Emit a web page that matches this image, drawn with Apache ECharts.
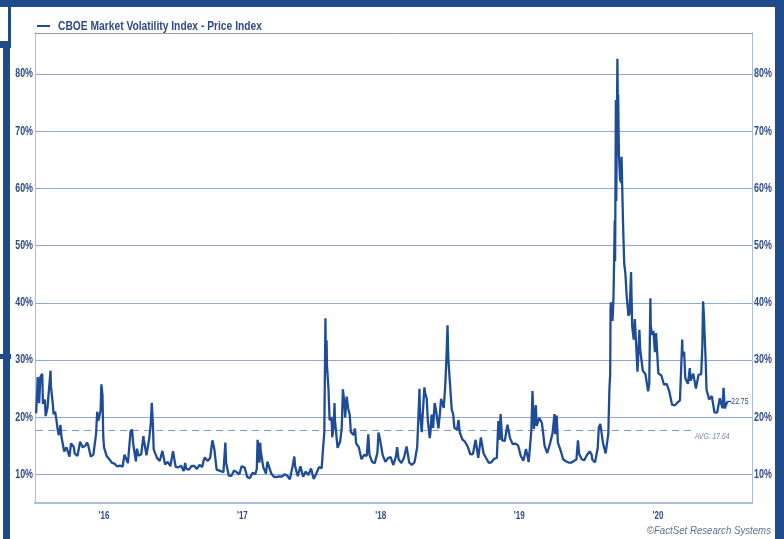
<!DOCTYPE html>
<html>
<head>
<meta charset="utf-8">
<script src="https://cdn.jsdelivr.net/npm/echarts@6/dist/echarts.min.js"></script>
<style>
html,body{margin:0;padding:0;background:#fff;}
#chart{width:784px;height:539px;}
</style>
</head>
<body>
<div id="chart"></div>
<script>
const seriesName = 'CBOE Market Volatility Index - Price Index';
const creditText = '\u00A9FactSet Research Systems';
const yTicks = [10, 20, 30, 40, 50, 60, 70, 80];
const yTickLabels = ['10%', '20%', '30%', '40%', '50%', '60%', '70%', '80%'];
const xLabelDates = ['2016-07-01', '2017-07-01', '2018-07-01', '2019-07-01', '2020-07-01'];
const xTickLabels = ["'16", "'17", "'18", "'19", "'20"];
const avgValue = 17.64;

const vix2016 = [['2016-01-04',20.70],['2016-01-07',24.99],['2016-01-08',27.01],['2016-01-12',22.47],['2016-01-15',27.02],['2016-01-20',27.59],['2016-01-22',22.34],['2016-01-27',23.11],['2016-01-29',20.20],['2016-02-03',21.65],['2016-02-05',23.38],['2016-02-09',26.54],['2016-02-11',28.14],['2016-02-12',25.40],['2016-02-17',22.31],['2016-02-19',20.53],['2016-02-23',20.98],['2016-02-26',19.81],['2016-03-01',17.70],['2016-03-04',16.86],['2016-03-08',18.67],['2016-03-11',16.50],['2016-03-15',16.84],['2016-03-18',14.02],['2016-03-24',14.74],['2016-04-01',13.10],['2016-04-05',15.42],['2016-04-08',15.36],['2016-04-12',14.85],['2016-04-15',13.62],['2016-04-22',13.22],['2016-04-29',15.70],['2016-05-06',14.72],['2016-05-11',14.69],['2016-05-13',15.04],['2016-05-17',15.57],['2016-05-20',15.20],['2016-05-27',13.12],['2016-06-03',13.47],['2016-06-10',17.03],['2016-06-13',20.97],['2016-06-16',19.37],['2016-06-17',19.41],['2016-06-22',21.17],['2016-06-24',25.76],['2016-06-27',23.85],['2016-06-29',16.64],['2016-07-01',14.77],['2016-07-06',14.96],['2016-07-08',13.20],['2016-07-15',12.67],['2016-07-22',12.02],['2016-07-29',11.87],['2016-08-05',11.39],['2016-08-12',11.55],['2016-08-19',11.34],['2016-08-24',13.45],['2016-08-26',13.65],['2016-09-02',11.98],['2016-09-09',17.50],['2016-09-13',17.85],['2016-09-16',15.37],['2016-09-23',12.29],['2016-09-26',14.50],['2016-09-30',13.29],['2016-10-07',13.48],['2016-10-13',16.69],['2016-10-14',16.12],['2016-10-21',13.34],['2016-10-28',16.19],['2016-11-01',18.56],['2016-11-04',22.51],['2016-11-07',18.71],['2016-11-09',14.38],['2016-11-11',14.17],['2016-11-18',12.85],['2016-11-25',12.34],['2016-12-02',14.12],['2016-12-09',11.75],['2016-12-16',12.20],['2016-12-23',11.44],['2016-12-30',14.04]];

const vix2017 = [['2017-01-06',11.32],['2017-01-13',11.23],['2017-01-20',11.54],['2017-01-27',10.58],['2017-01-31',11.99],['2017-02-03',10.97],['2017-02-10',10.85],['2017-02-17',11.49],['2017-02-24',11.47],['2017-03-03',10.96],['2017-03-10',11.66],['2017-03-17',11.28],['2017-03-21',12.47],['2017-03-24',12.96],['2017-03-31',12.37],['2017-04-07',12.87],['2017-04-11',15.07],['2017-04-13',15.96],['2017-04-18',14.42],['2017-04-21',14.63],['2017-04-24',10.84],['2017-04-28',10.82],['2017-05-05',10.57],['2017-05-12',10.40],['2017-05-17',15.59],['2017-05-19',12.04],['2017-05-26',9.81],['2017-06-02',9.75],['2017-06-09',10.70],['2017-06-16',10.38],['2017-06-23',10.02],['2017-06-29',11.44],['2017-07-07',11.19],['2017-07-14',9.51],['2017-07-21',9.36],['2017-07-28',10.29],['2017-08-04',10.03],['2017-08-08',11.00],['2017-08-10',16.04],['2017-08-11',15.51],['2017-08-15',12.04],['2017-08-17',15.55],['2017-08-18',14.26],['2017-08-25',11.28],['2017-09-01',10.13],['2017-09-05',12.23],['2017-09-08',12.12],['2017-09-15',10.17],['2017-09-22',9.59],['2017-09-29',9.51],['2017-10-06',9.65],['2017-10-13',9.61],['2017-10-20',10.00],['2017-10-27',9.80],['2017-11-03',9.14],['2017-11-10',11.29],['2017-11-15',13.13],['2017-11-17',11.43],['2017-11-24',9.67],['2017-12-01',11.43],['2017-12-08',9.58],['2017-12-15',10.49],['2017-12-22',9.90],['2017-12-29',11.04]];

const vix2018 = [['2018-01-05',9.22],['2018-01-12',10.16],['2018-01-19',11.27],['2018-01-26',11.08],['2018-01-30',14.79],['2018-02-02',17.31],['2018-02-05',37.32],['2018-02-06',29.98],['2018-02-07',27.73],['2018-02-08',33.46],['2018-02-09',29.06],['2018-02-13',24.97],['2018-02-16',19.46],['2018-02-21',20.02],['2018-02-23',16.49],['2018-02-27',18.59],['2018-03-01',22.47],['2018-03-02',19.59],['2018-03-09',14.64],['2018-03-16',15.80],['2018-03-20',18.20],['2018-03-23',24.87],['2018-03-27',22.50],['2018-03-29',19.97],['2018-04-02',23.62],['2018-04-06',21.49],['2018-04-10',20.47],['2018-04-13',17.41],['2018-04-20',16.88],['2018-04-24',18.02],['2018-04-27',15.41],['2018-05-04',14.77],['2018-05-11',12.65],['2018-05-18',13.42],['2018-05-25',13.22],['2018-05-29',17.02],['2018-06-01',13.46],['2018-06-08',12.18],['2018-06-15',11.98],['2018-06-22',13.77],['2018-06-25',17.33],['2018-06-29',16.09],['2018-07-06',13.37],['2018-07-13',12.18],['2018-07-20',12.86],['2018-07-27',13.03],['2018-08-03',11.64],['2018-08-10',13.16],['2018-08-13',14.78],['2018-08-17',12.64],['2018-08-24',11.99],['2018-08-31',12.86],['2018-09-07',14.88],['2018-09-14',12.07],['2018-09-21',11.68],['2018-09-28',12.12],['2018-10-05',14.82],['2018-10-10',22.96],['2018-10-11',24.98],['2018-10-12',21.31],['2018-10-17',17.40],['2018-10-19',19.89],['2018-10-24',25.23],['2018-10-26',24.16],['2018-10-30',23.35],['2018-11-02',19.51],['2018-11-07',16.36],['2018-11-09',17.36],['2018-11-12',20.45],['2018-11-16',18.14],['2018-11-20',22.48],['2018-11-23',21.52],['2018-11-30',18.07],['2018-12-04',20.74],['2018-12-07',23.23],['2018-12-14',21.63],['2018-12-18',25.58],['2018-12-21',30.11],['2018-12-24',36.07],['2018-12-26',30.41],['2018-12-28',28.34]];

const vix2019 = [['2019-01-04',21.38],['2019-01-08',20.47],['2019-01-11',18.19],['2019-01-18',17.80],['2019-01-22',19.52],['2019-01-25',17.42],['2019-02-01',16.14],['2019-02-08',15.72],['2019-02-15',14.91],['2019-02-22',13.51],['2019-03-01',13.57],['2019-03-08',16.05],['2019-03-15',12.88],['2019-03-22',16.48],['2019-03-25',16.33],['2019-03-29',13.71],['2019-04-05',12.82],['2019-04-12',12.01],['2019-04-18',12.09],['2019-04-26',12.73],['2019-05-03',12.87],['2019-05-07',19.32],['2019-05-10',16.04],['2019-05-13',20.55],['2019-05-17',15.96],['2019-05-24',15.85],['2019-05-31',18.71],['2019-06-03',18.86],['2019-06-07',16.30],['2019-06-14',15.28],['2019-06-21',15.40],['2019-06-28',15.08],['2019-07-05',13.28],['2019-07-12',12.39],['2019-07-19',14.45],['2019-07-26',12.16],['2019-08-02',17.61],['2019-08-05',24.59],['2019-08-09',17.97],['2019-08-12',21.09],['2019-08-14',22.10],['2019-08-16',18.47],['2019-08-23',19.87],['2019-08-30',18.98],['2019-09-06',15.00],['2019-09-13',13.74],['2019-09-20',15.32],['2019-09-27',17.22],['2019-10-02',20.56],['2019-10-04',17.04],['2019-10-08',20.28],['2019-10-11',15.58],['2019-10-18',14.25],['2019-10-25',12.65],['2019-11-01',12.30],['2019-11-08',12.07],['2019-11-15',12.05],['2019-11-22',12.34],['2019-11-29',12.62],['2019-12-03',15.96],['2019-12-06',13.62],['2019-12-13',12.63],['2019-12-20',12.51],['2019-12-27',13.43]];

const vix2020 = [['2020-01-03',14.02],['2020-01-08',13.45],['2020-01-10',12.56],['2020-01-17',12.10],['2020-01-24',14.56],['2020-01-27',18.23],['2020-01-31',18.84],['2020-02-07',15.47],['2020-02-14',13.68],['2020-02-21',17.08],['2020-02-24',25.03],['2020-02-26',27.56],['2020-02-27',39.16],['2020-02-28',40.11],['2020-03-03',36.82],['2020-03-05',39.62],['2020-03-06',41.94],['2020-03-09',54.46],['2020-03-10',47.30],['2020-03-12',75.47],['2020-03-13',57.83],['2020-03-16',82.69],['2020-03-17',75.91],['2020-03-18',76.45],['2020-03-20',66.04],['2020-03-23',61.59],['2020-03-24',61.67],['2020-03-26',61.00],['2020-03-27',65.54],['2020-03-31',53.54],['2020-04-03',46.80],['2020-04-06',45.24],['2020-04-09',41.67],['2020-04-14',37.76],['2020-04-17',38.15],['2020-04-21',45.41],['2020-04-24',35.93],['2020-04-28',33.57],['2020-05-01',37.19],['2020-05-08',27.98],['2020-05-13',35.28],['2020-05-15',31.89],['2020-05-22',28.16],['2020-05-29',27.51],['2020-06-05',24.52],['2020-06-08',25.81],['2020-06-11',40.79],['2020-06-12',36.09],['2020-06-15',34.40],['2020-06-19',35.12],['2020-06-23',31.37],['2020-06-26',34.73],['2020-07-02',27.68],['2020-07-10',27.29],['2020-07-17',25.68],['2020-07-24',25.84],['2020-07-31',24.46],['2020-08-07',22.21],['2020-08-14',22.05],['2020-08-21',22.54],['2020-08-28',22.96],['2020-09-03',33.60],['2020-09-04',30.75],['2020-09-08',31.46],['2020-09-11',26.87],['2020-09-18',25.83],['2020-09-23',28.58],['2020-09-25',26.38],['2020-10-02',27.63],['2020-10-09',25.00],['2020-10-16',27.41],['2020-10-23',27.55],['2020-10-26',32.46],['2020-10-28',40.28],['2020-10-30',38.02],['2020-11-04',29.57],['2020-11-06',24.86],['2020-11-13',23.10],['2020-11-20',23.70],['2020-11-27',20.84],['2020-12-04',20.79],['2020-12-11',23.31],['2020-12-18',21.57],['2020-12-21',25.16],['2020-12-24',21.53],['2020-12-31',22.75]];

const xMin = '2016-01-01';
const xMax = '2021-03-06';
const yMin = 5;
const yMax = 87.2;

const ts = d => Date.parse(d + 'T00:00:00Z');
const allData = vix2016.concat(vix2017, vix2018, vix2019, vix2020).map(p => [ts(p[0]), p[1]]);
const firstX = allData[0][0];
const last = allData[allData.length - 1];
const labelTs = xLabelDates.map(ts);

const FONT = "'Liberation Sans', Arial, sans-serif";
const TXT = '#2f4b86';
const FRAME = '#1f4a8c';
const GRID = '#92a8d4';
const AXIS = '#a9bbdf';
const LINE = '#1f4c98';

const chart = echarts.init(document.getElementById('chart'), null, {renderer: 'canvas'});
const option = {
  animation: false,
  backgroundColor: '#ffffff',
  grid: {left: 35, right: 32, top: 33, bottom: 36, show: false},
  xAxis: [{
    type: 'value', min: ts(xMin), max: ts(xMax),
    axisLine: {show: true, lineStyle: {color: AXIS, width: 2}},
    axisTick: {show: false}, splitLine: {show: false}, axisLabel: {show: false}
  }, {
    type: 'value', min: ts(xMin), max: ts(xMax), position: 'top',
    axisLine: {show: true, lineStyle: {color: '#9a9a9a', width: 1}},
    axisTick: {show: false}, axisLabel: {show: false}, splitLine: {show: false}
  }],
  yAxis: [{
    type: 'value', min: yMin, max: yMax, position: 'left',
    axisLine: {show: true, lineStyle: {color: AXIS, width: 1}},
    axisTick: {show: false}, splitLine: {show: false}, axisLabel: {show: false}
  }, {
    type: 'value', min: yMin, max: yMax, position: 'right',
    axisLine: {show: true, lineStyle: {color: AXIS, width: 1}},
    axisTick: {show: false}, splitLine: {show: false}, axisLabel: {show: false}
  }],
  series: [{
    name: 'grid',
    type: 'line',
    data: allData,
    silent: true,
    showSymbol: false,
    lineStyle: {opacity: 0},
    z: 1,
    markLine: {
      silent: true, symbol: 'none', animation: false,
      label: {show: false},
      lineStyle: {color: GRID, width: 1.2, type: 'solid'},
      data: yTicks.map(v => ({yAxis: v}))
    }
  }, {
    name: 'avg',
    type: 'line',
    data: allData,
    silent: true,
    showSymbol: false,
    lineStyle: {opacity: 0},
    z: 2,
    markLine: {
      silent: true, symbol: 'none', animation: false,
      lineStyle: {color: '#7f97c8', width: 1, type: [7, 5]},
      label: {show: false},
      data: [[{coord: [firstX, avgValue]}, {coord: [last[0], avgValue]}]]
    }
  }, {
    name: seriesName,
    type: 'line',
    data: allData,
    showSymbol: false,
    symbol: 'none',
    color: LINE,
    lineStyle: {color: LINE, width: 2.3},
    z: 5
  }]
};
chart.setOption(option);

// Text drawn through the chart's own scales (narrowed to match the condensed face)
const toPx = (x, y) => chart.convertToPixel({gridIndex: 0}, [x, y]);
const [gx0, gyBottom] = toPx(ts(xMin), yMin);
const [gx1, gyTop] = toPx(ts(xMax), yMax);
const narrowText = (text, x, y, o) => ({
  type: 'text', x: x, y: y, scaleX: o.sx, silent: true, z: 100,
  style: {
    text: text, align: o.align, verticalAlign: o.va || 'middle',
    fontFamily: FONT, fontSize: o.size, fontWeight: o.weight || 'normal',
    fontStyle: o.style || 'normal', fill: o.color || TXT,
    backgroundColor: o.bg, padding: o.pad
  }
});

const g = [
  {type: 'rect', shape: {x: 0, y: 0, width: 784, height: 7}, style: {fill: FRAME}, silent: true},
  {type: 'rect', shape: {x: 775, y: 0, width: 9, height: 539}, style: {fill: FRAME}, silent: true},
  {type: 'rect', shape: {x: 8, y: 7, width: 3, height: 36}, style: {fill: FRAME}, silent: true},
  {type: 'rect', shape: {x: 0, y: 41, width: 11, height: 7}, style: {fill: FRAME}, silent: true},
  {type: 'rect', shape: {x: 3, y: 41, width: 7, height: 498}, style: {fill: FRAME}, silent: true},
  {type: 'rect', shape: {x: 0, y: 354, width: 11, height: 5}, style: {fill: FRAME}, silent: true}
];
yTicks.forEach((v, i) => {
  const py = toPx(ts(xMin), v)[1];
  g.push(narrowText(yTickLabels[i], gx0 - 2, py, {sx: 0.74, size: 12, weight: 'bold', align: 'right'}));
  g.push(narrowText(yTickLabels[i], gx1 + 2, py, {sx: 0.74, size: 12, weight: 'bold', align: 'left'}));
});
labelTs.forEach((t, i) => {
  const px = toPx(t, yMin)[0];
  g.push(narrowText(xTickLabels[i], px, gyBottom + 13, {sx: 0.7, size: 11.5, weight: 'bold', align: 'center'}));
});
// legend-style title
g.push({type: 'line', shape: {x1: gx0 + 2, y1: gyTop - 7, x2: gx0 + 15, y2: gyTop - 7}, style: {stroke: LINE, lineWidth: 2}, silent: true});
g.push(narrowText(seriesName, gx0 + 23, gyTop - 7, {sx: 0.76, size: 13.5, weight: 'bold', align: 'left'}));
// credit
g.push(narrowText(creditText, 771, 531, {sx: 0.84, size: 11.5, style: 'italic', align: 'right', color: '#5d6f98'}));
// last value label
const lastPx = toPx(last[0], last[1]);
g.push({type: 'line', shape: {x1: lastPx[0], y1: lastPx[1], x2: lastPx[0] + 4, y2: lastPx[1]}, style: {stroke: LINE, lineWidth: 1.5}, silent: true});
g.push(narrowText(last[1].toFixed(2), lastPx[0] + 4, lastPx[1], {sx: 0.72, size: 9.5, align: 'left'}));
// average label
const avgPx = toPx(last[0], avgValue);
g.push(narrowText('AVG: ' + avgValue.toFixed(2), avgPx[0] + 3, avgPx[1] - 1,
  {sx: 0.72, size: 9.5, style: 'italic', align: 'right', va: 'top', color: '#7486ad', bg: '#ffffff', pad: [2, 1, 0, 4]}));

chart.setOption({graphic: g});
</script>
</body>
</html>
